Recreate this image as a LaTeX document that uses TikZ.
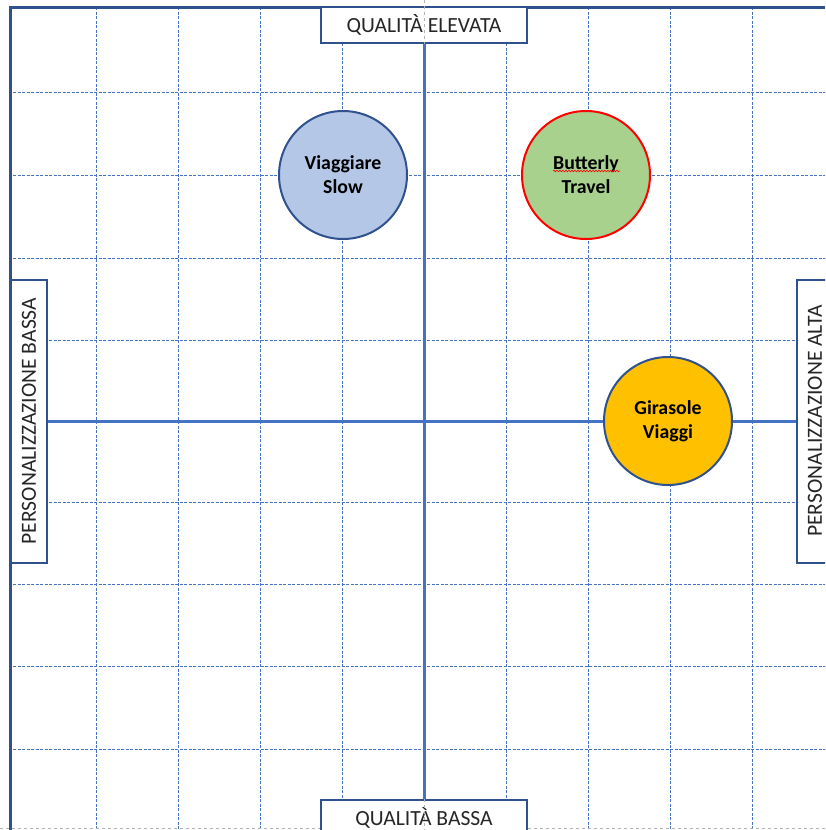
\documentclass[tikz,border=0pt]{standalone}
\usepackage{fontspec}
\setmainfont{Carlito}
\usepackage{tikz}
\usetikzlibrary{positioning,decorations.pathmorphing}

\definecolor{gridblue}{HTML}{4472C4}
\definecolor{darkblue}{HTML}{2F528F}
\definecolor{slowfill}{HTML}{B4C7E7}
\definecolor{butterfill}{HTML}{A9D18E}
\definecolor{girafill}{HTML}{FFC000}
\definecolor{labelgray}{HTML}{262626}

\begin{document}
\begin{tikzpicture}[x=1pt,y=-1pt,
    firm/.style={circle,draw=darkblue,line width=2pt,minimum size=128pt,inner sep=0pt,
                 align=center,font=\fontsize{19.8}{24}\selectfont\bfseries},
    axlabel/.style={draw=darkblue,line width=2pt,fill=white,inner sep=0pt,
                 minimum height=36pt,text=labelgray,font=\fontsize{21.6}{24}\selectfont},
    gridline/.style={gridblue,line width=1pt,dash pattern=on 3pt off 1.5pt},
    axisline/.style={gridblue,line width=3pt},
    guide/.style={gray!60,line width=1pt,dash pattern=on 3pt off 3pt}]
    \useasboundingbox (0,0) rectangle (825,830);
    \clip (0,0) rectangle (825,830);
    %grid
    \foreach \gx in {96,178,260,342,506,588,670,752}
      \draw[gridline] (\gx,7) -- (\gx,830);
    \foreach \gy in {92,175,258,340,502,584,666,749}
      \draw[gridline] (13,\gy) -- (825,\gy);
    \draw[guide] (0,828) -- (825,828);
    %frame
    \draw[darkblue,line width=3pt] (10,830) -- (10,7) -- (825,7);
    %labels
    \node[axlabel,minimum width=206pt] (qhigh) at (424,25) {QUALITÀ ELEVATA};
    \node[axlabel,minimum width=206pt] (qlow) at (424,818) {QUALITÀ BASSA};
    \node[axlabel,minimum width=283pt,rotate=90] (plow) at (29,421) {PERSONALIZZAZIONE BASSA};
    \node[axlabel,minimum width=283pt,rotate=90] (phigh) at (815,421) {PERSONALIZZAZIONE ALTA};
    %axes
    \draw[axisline] (qhigh.south) -- (qlow.north);
    \draw[axisline] (plow.south) -- (phigh.north);
    \draw[guide] (424,0) -- (424,44);
    \draw[guide] (424,799) -- (424,830);
    %firms
    \node[firm,fill=slowfill] (vs) at (343,175) {Viaggiare\\Slow};
    \node[firm,fill=butterfill,draw=red] (bt) at (586,175) {Butterly\\Travel};
    \node[firm,fill=girafill] (gv) at (668,421) {Girasole\\Viaggi};
    \draw[red,line width=0.6pt,decorate,decoration={snake,amplitude=0.8pt,segment length=3pt}]
      ([xshift=-33pt,yshift=4pt]bt.center) -- ([xshift=34pt,yshift=4pt]bt.center);
\end{tikzpicture}
\end{document}
